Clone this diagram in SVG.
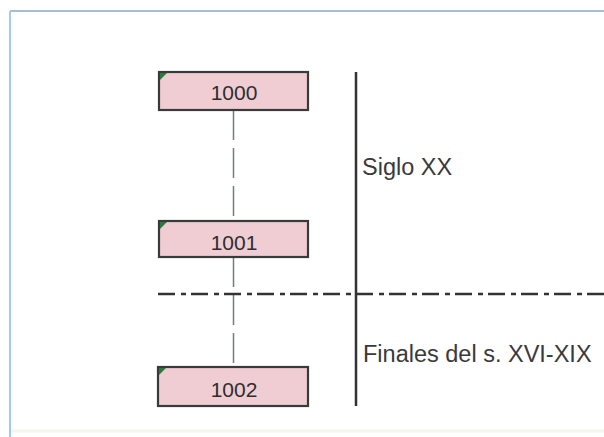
<svg xmlns="http://www.w3.org/2000/svg" width="604" height="437" viewBox="0 0 604 437">
<style>
.box{fill:#efcdd3;stroke:#3a3a3a;stroke-width:2.2}
.corner{fill:#2a7a3c}
.num{font-family:"Liberation Sans",Arial,sans-serif;font-size:21px;fill:#2e2e2e;text-anchor:middle}
.lbl{font-family:"Liberation Sans",Arial,sans-serif;font-size:23.5px;fill:#3a3a3a}
.link{stroke:#6f7f7a;stroke-width:1.5;stroke-dasharray:30 8;fill:none}
</style>
<rect x="0" y="0" width="604" height="437" fill="#ffffff"/>
<g id="frame">
<line x1="10" y1="11" x2="604" y2="11" stroke="#a9bcd6" stroke-width="2"/>
<line x1="10" y1="11" x2="10" y2="437" stroke="#a8c8ea" stroke-width="2"/>
<line x1="11" y1="431" x2="604" y2="431" stroke="#f3f6ea" stroke-width="3"/>
</g>
<g id="connectors">
<line class="link" x1="233.5" y1="110" x2="233.5" y2="221"/>
<line class="link" x1="233.5" y1="257" x2="233.5" y2="367"/>
<line x1="356" y1="72" x2="356" y2="406" stroke="#333" stroke-width="2.5"/>
<line x1="158" y1="294" x2="604" y2="294" stroke="#333" stroke-width="2.5" stroke-dasharray="17 6 5 5"/>
</g>
<g id="n1000">
<rect class="box" x="159" y="72" width="149" height="38"/>
<path class="corner" d="M160 73h7l-7 7z"/>
<text class="num" x="234" y="100">1000</text>
</g>
<g id="n1001">
<rect class="box" x="159" y="221" width="149" height="36"/>
<path class="corner" d="M160 222h7l-7 7z"/>
<text class="num" x="234" y="250">1001</text>
</g>
<g id="n1002">
<rect class="box" x="158" y="367" width="150" height="39"/>
<path class="corner" d="M159 368h7l-7 7z"/>
<text class="num" x="234" y="397">1002</text>
</g>
<g id="labels">
<text class="lbl" x="362" y="175">Siglo XX</text>
<text class="lbl" x="363" y="362">Finales del s. XVI-XIX</text>
</g>
</svg>
